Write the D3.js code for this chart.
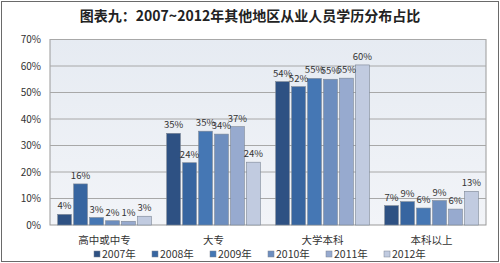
<!DOCTYPE html>
<html>
<head>
<meta charset="utf-8">
<script src="https://cdn.jsdelivr.net/npm/d3@7"></script>
<style>
  body { margin: 0; background: #fff; }
  text { font-family: "Noto Sans CJK SC", "Noto Sans", sans-serif; }
</style>
</head>
<body>
<div id="chart"></div>
<script>
var categories = ['高中或中专', '大专', '大学本科', '本科以上'];
var years = ['2007年', '2008年', '2009年', '2010年', '2011年', '2012年'];
var v2007 = [4.0, 34.6, 54.1, 7.3];
var v2008 = [15.5, 23.5, 52.2, 8.8];
var v2009 = [2.8, 35.4, 55.3, 6.4];
var v2010 = [1.6, 34.3, 55.0, 9.2];
var v2011 = [1.4, 37.1, 55.4, 6.0];
var v2012 = [3.3, 23.7, 60.4, 12.7];
var yTicks = [0, 10, 20, 30, 40, 50, 60, 70];

var series = [v2007, v2008, v2009, v2010, v2011, v2012];
var colors = ['#2e5183', '#3765a0', '#4577b4', '#6d8ebf', '#97aacf', '#c1cbe0'];

var W = 500, H = 263;
var margin = { left: 50, right: 14, top: 39.5, bottom: 38 };

var svg = d3.select('#chart').append('svg')
  .attr('width', W).attr('height', H);

svg.append('rect')
  .attr('x', 1.5).attr('y', 1.5)
  .attr('width', W - 3).attr('height', H - 3)
  .attr('fill', '#fff').attr('stroke', '#6a6a6a');

svg.append('text')
  .attr('x', W / 2).attr('y', 21)
  .attr('text-anchor', 'middle')
  .attr('font-size', 14).attr('font-weight', 'bold')
  .attr('fill', '#222')
  .text('图表九：2007~2012年其他地区从业人员学历分布占比');

var x0 = d3.scaleBand().domain(categories)
  .range([margin.left, W - margin.right])
  .paddingInner(0.1).paddingOuter(0.05);
var x1 = d3.scaleBand().domain(years)
  .range([0, x0.bandwidth()]).padding(0.14);
var y = d3.scaleLinear().domain([0, 70])
  .range([H - margin.bottom, margin.top]);

var defs = svg.append('defs');
var grad = defs.append('linearGradient').attr('id', 'bg')
  .attr('x1', 0).attr('y1', 0).attr('x2', 0).attr('y2', 1);
grad.append('stop').attr('offset', '0%').attr('stop-color', '#e6ebf2');
grad.append('stop').attr('offset', '100%').attr('stop-color', '#f2f4f8');

svg.append('rect')
  .attr('x', margin.left).attr('y', margin.top)
  .attr('width', W - margin.right - margin.left)
  .attr('height', y(0) - y(70))
  .attr('fill', 'url(#bg)').attr('stroke', '#9a9a9a');

svg.append('g').selectAll('line')
  .data(yTicks.slice(1))
  .enter().append('line')
  .attr('x1', margin.left).attr('x2', W - margin.right)
  .attr('y1', function(d) { return y(d) }).attr('y2', function(d) { return y(d) })
  .attr('stroke', '#a8a8a8');

var yAxis = svg.append('g')
  .attr('transform', 'translate(' + margin.left + ',0)')
  .call(d3.axisLeft(y).tickValues(yTicks).tickSize(0).tickPadding(9)
    .tickFormat(function(d) { return d + '%' }));
yAxis.select('.domain').remove();
yAxis.selectAll('text').attr('font-size', 10).attr('fill', '#333');

var groups = svg.append('g').selectAll('g')
  .data(categories)
  .enter().append('g')
  .attr('transform', function(d) { return 'translate(' + x0(d) + ',0)' });

groups.each(function(cat, ci) {
  var g = d3.select(this);
  var rows = years.map(function(yr, i) { return { year: yr, value: series[i][ci], i: i } });
  g.selectAll('rect').data(rows).enter().append('rect')
    .attr('x', function(d) { return x1(d.year) })
    .attr('y', function(d) { return y(d.value) })
    .attr('width', x1.bandwidth())
    .attr('height', function(d) { return y(0) - y(d.value) })
    .attr('fill', function(d) { return colors[d.i] })
    .attr('stroke', '#7b8594').attr('stroke-width', 0.6);
  g.selectAll('text').data(rows).enter().append('text')
    .attr('x', function(d) { return x1(d.year) + x1.bandwidth() / 2 })
    .attr('y', function(d) { return y(d.value) - 5 })
    .attr('text-anchor', 'middle')
    .attr('font-size', 9.5).attr('fill', '#333')
    .text(function(d) { return Math.round(d.value) + '%' });
});

svg.append('g').selectAll('text')
  .data(categories)
  .enter().append('text')
  .attr('x', function(d) { return x0(d) + x0.bandwidth() / 2 })
  .attr('y', 244)
  .attr('text-anchor', 'middle')
  .attr('font-size', 10.5).attr('fill', '#333')
  .text(function(d) { return d });

var legend = svg.append('g').selectAll('g')
  .data(years)
  .enter().append('g')
  .attr('transform', function(d, i) { return 'translate(' + (94 + i * 58) + ',251)' });
legend.append('rect')
  .attr('width', 6).attr('height', 6)
  .attr('fill', function(d, i) { return colors[i] })
  .attr('stroke', '#7b8594').attr('stroke-width', 0.5);
legend.append('text')
  .attr('x', 8).attr('y', 6.5)
  .attr('font-size', 10.5).attr('fill', '#333')
  .text(function(d) { return d });
</script>
</body>
</html>
